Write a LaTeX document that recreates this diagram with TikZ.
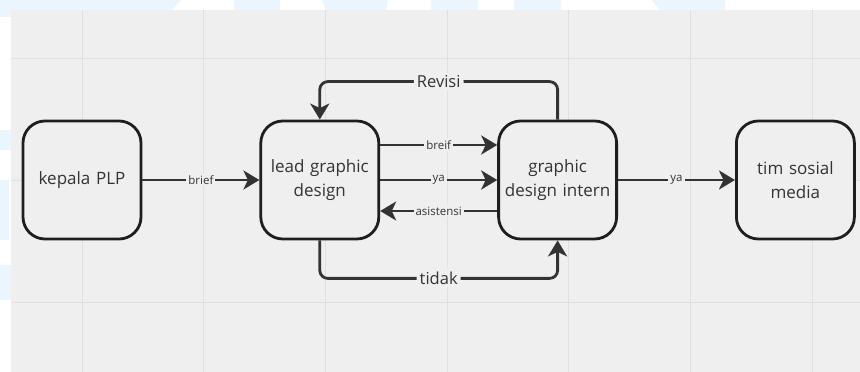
\documentclass[tikz,border=0pt]{standalone}
\usepackage{fontspec}
\setmainfont{Open Sans}
\usepackage{tikz}
\usetikzlibrary{positioning,arrows.meta}
\definecolor{canvas}{HTML}{EFEFEF}
\definecolor{gridln}{HTML}{E0E0E0}
\definecolor{ink}{HTML}{1E1E1E}
\definecolor{edgec}{HTML}{333333}
\definecolor{wmark}{HTML}{EAF5FD}

\begin{document}
\begin{tikzpicture}[x=1pt, y=1pt,
  node distance=35pt and 117pt,
  box/.style={draw=ink, line width=2.8pt, rounded corners=22pt, fill=canvas, minimum width=118pt, minimum height=118pt, align=center, text width=114pt, inner sep=0pt, text=edgec, font=\fontsize{17}{24}\selectfont},
  arr/.style={-{Stealth[length=16pt, width=19pt, inset=4.5pt]}, line width=2.8pt, draw=edgec},
  lbl/.style={fill=canvas, text=edgec, inner sep=2pt, font=\fontsize{11.5}{13}\selectfont},
  biglbl/.style={lbl, inner sep=3pt, font=\fontsize{16.5}{19}\selectfont}]
\useasboundingbox (0,0) rectangle (860,372);
\fill[white] (0,0) rectangle (860,372);
% watermark bits in the margins
\fill[wmark] (0,372) -- (181,372) -- (172,362) -- (0,362) -- cycle;
\fill[wmark] (234,372) rectangle (280,362);
\fill[wmark] (322,372) -- (388,372) -- (386,362) -- (326,362) -- cycle;
\fill[wmark] (431,372) rectangle (478,362);
\fill[wmark] (514,372) rectangle (561,362);
\fill[wmark] (652,372) -- (725,372) -- (725,362) -- (660,362) -- cycle;
\fill[wmark] (0,372) rectangle (11,355);
\fill[wmark] (0,242) rectangle (11,222);
\fill[wmark] (0,192) rectangle (9,132);
\fill[wmark] (0,107) rectangle (11,72);
% canvas and grid
\fill[canvas] (11,0) rectangle (860,362);
\foreach \x in {82,203.7,325.4,447,568.8,690.5,812.2}
  \draw[gridln, line width=0.8pt] (\x,0) -- (\x,362);
\foreach \y in {70,192,314}
  \draw[gridln, line width=0.8pt] (11,\y) -- (860,\y);

\node[box] (kepala) at (82,192) {kepala PLP};
\node[box, right=of kepala] (lead) {lead graphic\\design};
\node[box, right=of lead] (intern) {graphic\\design intern};
\node[box, right=of intern] (sosmed) {tim sosial\\media};

\draw[arr] (kepala) -- node[lbl] {brief} (lead);
\draw[arr] ([yshift=35pt]lead.east) -- node[lbl] {breif} ([yshift=35pt]intern.west);
\draw[arr] (lead) -- node[lbl] {ya} (intern);
\draw[arr] ([yshift=-31pt]intern.west) -- node[lbl] {asistensi} ([yshift=-31pt]lead.east);
\draw[arr] (intern) -- node[lbl] {ya} (sosmed);
\draw[arr, rounded corners=8pt] (intern.north) -- ++(0,38) -| node[biglbl, pos=0.25] {Revisi} (lead.north);
\draw[arr, rounded corners=8pt] (lead.south) -- ++(0,-38) -| node[biglbl, pos=0.25] {tidak} (intern.south);
\end{tikzpicture}
\end{document}
